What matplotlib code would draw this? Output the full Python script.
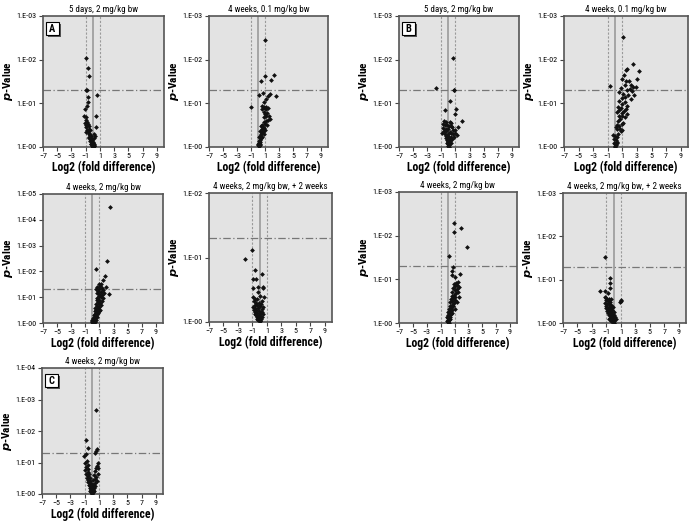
import matplotlib
matplotlib.use('Agg')
import matplotlib.pyplot as plt
from matplotlib.patches import Rectangle
from matplotlib import font_manager

names = {f.name for f in font_manager.fontManager.ttflist}
narrow = [n for n in ['Liberation Sans Narrow', 'DejaVu Sans Condensed', 'Roboto Condensed',
                      'Open Sans Condensed'] if n in names]
plt.rcParams['font.family'] = narrow + ['DejaVu Sans']

# ---- data (log2 fold difference, -log10 p) ----
a1_x = [-1.0, -0.7, -0.6, -1.0, -0.8, 0.55, -0.7, -0.7, -0.8, -1.1, 0.4, -1.2, -1.0, -0.9, -0.8,
        -1.1, -0.7, -0.9, -1.0, -0.6, -0.5, -0.8, -0.7, -0.6, 0.4, -0.5, -0.4, -0.9, -0.3, -0.6,
        -0.5, -0.3, -0.2, -0.4, -0.1, 0.0, -0.3, -0.2, 0.1, 0.0, -0.1, 0.2, -0.2, 0.0, 0.1,
        -0.05, 0.05, 0.15, 0.0, -0.1, 0.1, 0.3, -0.4, 0.2]
a1_y = [2.04, 1.82, 1.62, 1.31, 1.30, 1.19, 1.15, 1.03, 0.93, 0.88, 0.71, 0.72, 0.68, 0.62, 0.58,
        0.55, 0.52, 0.5, 0.45, 0.47, 0.42, 0.40, 0.36, 0.33, 0.45, 0.30, 0.28, 0.35, 0.25, 0.22,
        0.2, 0.18, 0.15, 0.14, 0.12, 0.1, 0.08, 0.06, 0.07, 0.04, 0.03, 0.02, 0.2, 0.01, 0.05,
        0.09, 0.12, 0.3, 0.0, 0.15, 0.2, 0.25, 0.38, 0.03]

a2_x = [1.06, 2.29, 0.96, 1.9, 0.39, 0.68, 0.2, 1.67, 1.44, 1.2, 2.57, 0.87, -1.03,
        0.5, 0.8, 1.0, 1.2, 1.4, 0.6, 1.1, 0.9, 1.3, 1.0, 1.5, 1.2, 0.8, 1.7, 1.4, 1.1, 0.9,
        1.0, 1.3, 0.6, 0.4, 0.7, 0.9, 0.5, 0.8, 1.0, 0.6, 0.3, 0.7, 0.5, 0.4, 0.8,
        0.3, 0.5, 0.2, 0.4, 0.3, 0.2, 0.35, 0.1, 0.25, 0.15, 0.05, 0.2, 0.1, 0.3, 0.0]
a2_y = [2.44, 1.64, 1.62, 1.53, 1.50, 1.24, 1.2, 1.21, 1.16, 1.1, 1.16, 1.03, 0.92,
        0.93, 0.92, 0.9, 0.92, 0.9, 0.88, 0.86, 0.8, 0.78, 0.75, 0.72, 0.7, 0.68, 0.65, 0.62, 0.6, 0.57,
        0.52, 0.5, 0.5, 0.48, 0.46, 0.44, 0.42, 0.4, 0.38, 0.37, 0.36, 0.34, 0.32, 0.3, 0.3,
        0.26, 0.24, 0.22, 0.2, 0.17, 0.14, 0.12, 0.1, 0.08, 0.06, 0.04, 0.03, 0.02, 0.05, 0.07]

b1_x = [0.6, -1.74, 0.75, 0.85, 0.27, 1.13, -0.5, 0.9, 1.9,
        -0.6, -0.3, 0.2, 0.4, -0.8, -0.5, -0.2, 0.1, 0.3, 0.5, 1.3, -0.7, -0.4, 0.0, 0.6, 0.9,
        -0.6, -0.3, 0.2, 0.4, 1.0, -0.5, -0.1, 0.7, -0.4, 0.0, 0.3, 0.8, -0.3, 0.1, 0.5, -0.2,
        0.2, 0.0, -0.1, 0.3, 0.1, -0.05, 0.15, 0.0, 0.05, -0.15, 0.25, 1.2, -0.9]
b1_y = [2.04, 1.34, 1.31, 1.31, 1.05, 0.88, 0.84, 0.75, 0.6,
        0.6, 0.58, 0.57, 0.55, 0.52, 0.5, 0.5, 0.48, 0.47, 0.45, 0.45, 0.44, 0.42, 0.42, 0.4, 0.38,
        0.37, 0.36, 0.35, 0.33, 0.32, 0.3, 0.3, 0.3, 0.26, 0.25, 0.24, 0.22, 0.2, 0.2, 0.18, 0.16,
        0.15, 0.13, 0.11, 0.1, 0.08, 0.06, 0.05, 0.03, 0.01, 0.09, 0.13, 0.27, 0.33]

b2_x = [1.07, 2.5, 1.55, 1.7, 3.26, 2.97, 1.97, -0.68,
        1.2, 1.0, 1.5, 2.2, 2.5, 2.9, 1.3, 0.8, 2.0, 1.6, 2.3, 0.5, 1.1, 2.6, 1.8, 1.4, 0.9, 2.2,
        0.6, 1.3, 1.0, 1.7, 0.4, 0.8, 1.5, 0.6, 1.2, 0.3, 0.9, 1.6, 0.5, 1.0, 1.3, 0.7, 0.4, 1.1, 0.9,
        0.2, 0.5, 0.1, 0.7, 0.3, 1.0, 0.8, 0.4, -0.26, 0.0, 0.2, -0.1, 0.1, 0.2, -0.1, 0.0, 0.15,
        0.05, 0.0, 0.2]
b2_y = [2.53, 1.91, 1.76, 1.78, 1.73, 1.56, 1.5, 1.40,
        1.65, 1.55, 1.52, 1.42, 1.38, 1.38, 1.42, 1.35, 1.32, 1.3, 1.28, 1.25, 1.22, 1.2, 1.2, 1.15, 1.12, 1.1,
        1.05, 1.02, 0.98, 0.95, 0.92, 0.9, 0.88, 0.85, 0.82, 0.8, 0.78, 0.75, 0.72, 0.7, 0.68, 0.65, 0.6, 0.55, 0.52,
        0.5, 0.48, 0.45, 0.42, 0.42, 0.38, 0.36, 0.3, 0.27, 0.25, 0.22, 0.18, 0.15, 0.12, 0.1, 0.08, 0.05,
        0.03, 0.0, 0.1]

c1_x = [2.49, 2.11, 0.52, 1.74, 1.46, 1.2, 0.9, 1.05, 1.97, 2.3,
        0.7, 1.3, 0.5, 1.0, 1.5, 0.8, 1.2, 1.6, 0.6, 1.0, 1.4, 0.9, 1.2, 0.7, 1.5, 1.0, 0.6, 1.3,
        0.8, 1.1, 0.5, 0.9, 1.2, 0.7, 1.0, 0.4, 0.8, 0.6, 1.1, 0.5, 0.9, 0.3, 0.7, 0.5, 0.8, 0.4,
        0.6, 0.2, 0.5, 0.3, 0.6, 0.1, 0.4, 0.2, 0.5, 0.0, 0.3, 0.1, 0.2, 0.0, 0.3, -0.1, 0.1]
c1_y = [4.5, 2.41, 2.1, 1.84, 1.66, 1.52, 1.5, 1.45, 1.4, 1.11,
        1.38, 1.35, 1.32, 1.3, 1.28, 1.25, 1.2, 1.18, 1.15, 1.12, 1.1, 1.05, 1.0, 0.98, 0.95, 0.9, 0.88, 0.85,
        0.8, 0.78, 0.75, 0.72, 0.7, 0.65, 0.62, 0.6, 0.58, 0.55, 0.52, 0.5, 0.48, 0.45, 0.43, 0.4, 0.38, 0.35,
        0.33, 0.3, 0.28, 0.25, 0.22, 0.2, 0.18, 0.15, 0.13, 0.12, 0.1, 0.08, 0.05, 0.04, 0.03, 0.06, 0.01]

c2_x = [-0.99, -2.0, -0.63, 0.39, -0.9, -0.5, -0.17, 0.5, 0.45, -0.85, -0.26, 0.1, 0.55,
        -0.9, -0.6, -0.3, 0.3, -0.8, -0.5, -0.1, 0.2, -0.7, -0.4, 0.0, 0.4, -0.9, -0.6, -0.2, 0.3,
        -0.8, -0.5, -0.1, 0.2, -0.7, -0.3, 0.1, 0.4, -0.5, -0.2, 0.0, 0.3, -0.4, -0.1, 0.2, 0.0,
        -0.2, 0.1, 0.0, -0.3, 0.35, -0.6]
c2_y = [1.12, 0.97, 0.81, 0.74, 0.66, 0.66, 0.55, 0.55, 0.53, 0.53, 0.47, 0.4, 0.38,
        0.38, 0.36, 0.35, 0.33, 0.32, 0.3, 0.3, 0.28, 0.27, 0.26, 0.25, 0.24, 0.24, 0.22, 0.21, 0.2,
        0.19, 0.18, 0.17, 0.16, 0.15, 0.14, 0.13, 0.12, 0.11, 0.1, 0.09, 0.08, 0.07, 0.06, 0.05, 0.04,
        0.03, 0.02, 0.01, 0.05, 0.15, 0.13]

c3_x = [0.9, 1.95, 0.9, 2.76, 0.27, 0.75, 0.6, 0.6, 1.85, 1.13, 1.5,
        1.2, 0.9, 1.4, 1.1, 1.6, 0.8, 1.3, 1.0, 0.7, 1.5, 1.2, 0.9, 0.6, 1.1, 1.7, 0.8, 0.5, 1.0,
        0.7, 1.3, 0.4, 0.9, 0.6, 0.3, 0.8, 0.5, 1.0, 0.2, 0.6, 0.4, 0.1, 0.7, 0.3, 0.5, 0.0, 0.2,
        0.4, -0.1, 0.1, 0.3, 0.0, 0.2, -0.1, 0.1, 0.0, 0.2]
c3_y = [2.28, 2.18, 2.08, 1.74, 1.53, 1.28, 1.18, 1.1, 1.13, 1.05, 0.95,
        0.92, 0.9, 0.88, 0.85, 0.82, 0.8, 0.78, 0.75, 0.72, 0.7, 0.68, 0.65, 0.62, 0.6, 0.6, 0.57, 0.55, 0.52,
        0.5, 0.48, 0.47, 0.45, 0.42, 0.4, 0.38, 0.35, 0.33, 0.32, 0.3, 0.27, 0.25, 0.24, 0.22, 0.2, 0.18, 0.16,
        0.14, 0.13, 0.11, 0.1, 0.08, 0.06, 0.05, 0.04, 0.02, 0.01]

c4_x = [-1.2, -0.45, -0.5, -0.55, -1.9, -1.2, -0.73, -1.25, 1.0, 0.9, 0.95,
        -1.0, -0.7, -0.4, -1.1, -0.8, -0.5, -1.2, -0.9, -0.6, -0.3, -1.0, -0.7, -0.4, -0.1, -1.1,
        -0.8, -0.5, -0.2, -0.9, -0.6, -0.3, 0.0, -0.8, -0.5, -0.2, 0.1, -0.7, -0.4, -0.1, 0.2,
        -0.5, -0.2, 0.0, -0.4, -0.1, 0.1, -0.3, 0.0, -0.1, 0.1, 0.3, -0.6]
c4_y = [1.52, 1.03, 0.92, 0.8, 0.73, 0.75, 0.69, 0.6, 0.52, 0.48, 0.5,
        0.58, 0.56, 0.55, 0.52, 0.5, 0.48, 0.46, 0.45, 0.43, 0.42, 0.4, 0.38, 0.37, 0.36, 0.35,
        0.33, 0.32, 0.3, 0.28, 0.27, 0.26, 0.25, 0.23, 0.22, 0.2, 0.19, 0.18, 0.16, 0.15, 0.14,
        0.12, 0.11, 0.1, 0.08, 0.07, 0.06, 0.05, 0.04, 0.02, 0.01, 0.1, 0.1]

d1_x = [0.6, -0.8, -0.57, 0.6, 0.4, 0.75, -1.13, -0.75, 0.9, 0.6, 0.85,
        -0.7, -0.9, -0.6, -0.8, 0.7, -0.5, -0.9, 0.5, -0.6, -0.4, 0.8, -0.8, 0.3, -0.5, 0.6, -0.3,
        -0.7, 0.4, -0.5, 0.2, -0.2, 0.7, -0.6, -0.3, 0.4, 0.0, -0.4, 0.2, 0.5, -0.2, 0.1, -0.3,
        0.3, 0.0, -0.1, 0.2, -0.2, 0.1, 0.0, -0.1, 0.15, 0.0, 0.05, -0.05, 0.3]
d1_y = [2.66, 1.71, 1.47, 1.35, 1.3, 1.42, 1.2, 1.26, 0.99, 0.81, 0.81,
        1.05, 0.98, 0.92, 0.85, 0.88, 0.8, 0.75, 0.72, 0.7, 0.65, 0.65, 0.62, 0.6, 0.58, 0.55, 0.52,
        0.5, 0.48, 0.45, 0.43, 0.42, 0.4, 0.38, 0.35, 0.34, 0.32, 0.3, 0.28, 0.26, 0.25, 0.22, 0.2,
        0.19, 0.17, 0.15, 0.13, 0.11, 0.1, 0.08, 0.06, 0.05, 0.03, 0.01, 0.12, 0.08]

titles = ['5 days, 2 mg/kg bw', '4 weeks, 0.1 mg/kg bw', '5 days, 2 mg/kg bw', '4 weeks, 0.1 mg/kg bw',
          '4 weeks, 2 mg/kg bw', '4 weeks, 2 mg/kg bw, + 2 weeks', '4 weeks, 2 mg/kg bw',
          '4 weeks, 2 mg/kg bw, + 2 weeks', '4 weeks, 2 mg/kg bw']
y_max = [3, 3, 3, 3, 5, 2, 3, 3, 4]
xs = [a1_x, a2_x, b1_x, b2_x, c1_x, c2_x, c3_x, c4_x, d1_x]
ys = [a1_y, a2_y, b1_y, b2_y, c1_y, c2_y, c3_y, c4_y, d1_y]
letters = {0: 'A', 2: 'B', 8: 'C'}
x_ticks = [-7, -5, -3, -1, 1, 3, 5, 7, 9]

W, H = 696, 528
# axes boxes in pixels: left, right, top, bottom
boxes = [(43, 164, 16, 147), (209, 328, 16, 147), (399, 519, 16, 147), (564, 688, 16, 147),
         (43, 163, 194, 323), (209, 332, 193, 322), (399, 517, 192, 323), (563, 686, 193, 323),
         (42, 163, 368, 494)]
YLAB_OFF = 28   # px from the axes to the right edge of the y label

fig = plt.figure(figsize=(W / 100, H / 100), dpi=100)

for i, (l, r, t, b) in enumerate(boxes):
    ax = fig.add_axes([l / W, 1 - b / H, (r - l) / W, (b - t) / H])
    ax.set_facecolor('#e3e3e3')
    ax.set_xlim(-7, 10)
    ax.set_ylim(0, y_max[i])

    ax.axvline(-1, color='#9a9a9a', lw=0.8, ls=(0, (2, 1.5)), zorder=1)
    ax.axvline(1, color='#9a9a9a', lw=0.8, ls=(0, (2, 1.5)), zorder=1)
    ax.axvline(0, color='#9a9a9a', lw=1.2, zorder=1)
    ax.axhline(1.301, color='#777777', lw=0.9, ls=(0, (6, 2, 1, 2)), zorder=1)

    ax.scatter(xs[i], ys[i], s=6, color='#111111', marker='D', linewidths=0, zorder=3)

    ax.set_xticks(x_ticks)
    ax.set_xticklabels([f'{v}'.replace('-', '\u2212') for v in x_ticks])
    yt = list(range(y_max[i] + 1))
    ax.set_yticks(yt)
    ax.set_yticklabels([f'1.E-{v:02d}' for v in yt])
    ax.tick_params(labelsize=5.8, length=3, width=0.8, color='#444444', pad=1.5)
    for s in ax.spines.values():
        s.set_color('#555555')
        s.set_linewidth(1.2)

    ax.set_title(titles[i], fontsize=6.5, pad=3)
    ax.set_xlabel('Log2 (fold difference)', fontsize=8.5, fontweight='bold', labelpad=1)
    ax.set_ylabel('$\\mathbfit{p}$-Value', fontsize=8.2, fontweight='bold')
    ax.yaxis.set_label_coords(-YLAB_OFF / (r - l), 0.5)

    if i in letters:
        bx, by = l + 3, t + 6
        fig.patches.append(Rectangle(((bx + 2) / W, 1 - (by + 15) / H), 13 / W, 13 / H,
                                     transform=fig.transFigure, facecolor='#555555',
                                     edgecolor='none', zorder=5))
        fig.patches.append(Rectangle((bx / W, 1 - (by + 13) / H), 13 / W, 13 / H,
                                     transform=fig.transFigure, facecolor='white',
                                     edgecolor='black', lw=0.8, zorder=6))
        fig.text((bx + 6.5) / W, 1 - (by + 6.5) / H, letters[i], ha='center', va='center',
                 fontsize=7.5, fontweight='bold', zorder=7)

fig.savefig('out.png', dpi=100)
